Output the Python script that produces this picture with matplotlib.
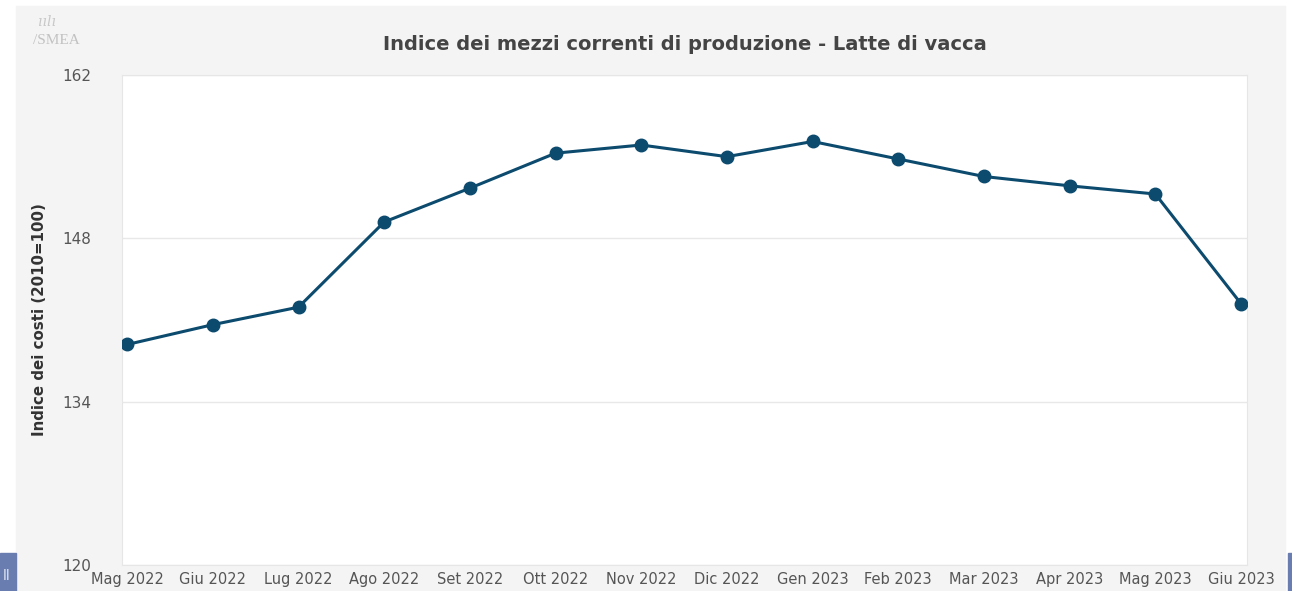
import matplotlib.pyplot as plt
from matplotlib.patches import Rectangle

mesi = ["Mag 2022", "Giu 2022", "Lug 2022", "Ago 2022", "Set 2022", "Ott 2022",
        "Nov 2022", "Dic 2022", "Gen 2023", "Feb 2023", "Mar 2023", "Apr 2023",
        "Mag 2023", "Giu 2023"]
indice = [138.9, 140.6, 142.1, 149.4, 152.3, 155.3, 156.0, 155.0, 156.3, 154.8,
          153.3, 152.5, 151.8, 142.4]
yticks = [120, 134, 148, 162]

line_color = "#0c4a6e"
panel_color = "#f4f4f4"

fig = plt.figure(figsize=(12.92, 5.91), dpi=100)
fig.patch.set_facecolor("white")

# gray panel and side tabs
fig.patches.append(Rectangle((16 / 1292, 0), 1269 / 1292, 1 - 6 / 591,
                             transform=fig.transFigure, color=panel_color, zorder=-10))
fig.patches.append(Rectangle((0, 0), 16 / 1292, 38 / 591,
                             transform=fig.transFigure, color="#6a7db0", zorder=-9))
fig.patches.append(Rectangle((1288 / 1292, 0), 4 / 1292, 38 / 591,
                             transform=fig.transFigure, color="#6a7db0", zorder=-9))
fig.text(3 / 1292, 15 / 591, "ll", color="#dfe4f0", fontsize=10, va="center")

ax = fig.add_axes([122 / 1292, 26 / 591, 1125 / 1292, 490 / 591])
ax.set_facecolor("white")

x = list(range(len(mesi)))
ax.plot(x, indice, color=line_color, lw=2.2, marker="o", ms=9, zorder=3)

ax.set_xlim(-0.06, len(mesi) - 1 + 0.07)
ax.set_ylim(120, 162)
ax.set_yticks(yticks)
ax.set_xticks(x)
ax.set_xticklabels(mesi)
ax.grid(axis="y", color="#e8e8e8", lw=1)
ax.set_axisbelow(True)
ax.tick_params(axis="both", length=0, labelcolor="#555555")
ax.tick_params(axis="y", pad=22, labelsize=11)
ax.tick_params(axis="x", pad=5, labelsize=10.5)
for s in ax.spines.values():
    s.set_color("#e6e6e6")

ax.set_ylabel("Indice dei costi (2010=100)", fontsize=10.8, fontweight="bold",
              color="#333333")
ax.yaxis.set_label_coords(-0.067, 0.5)

fig.text(0.530, 1 - 44 / 591, "Indice dei mezzi correnti di produzione - Latte di vacca",
         ha="center", va="center", fontsize=14, fontweight="bold", color="#444444")

# logo
fig.text(33 / 1292, 1 - 40 / 591, "/SMEA", fontsize=11, color="#c2c2c2",
         family="Liberation Serif", va="center")
fig.text(38 / 1292, 1 - 22 / 591, "ıılı", fontsize=10, color="#c8c8c8",
         family="DejaVu Serif", va="center", style="italic")

fig.savefig("out.png", dpi=100, facecolor=fig.get_facecolor())
